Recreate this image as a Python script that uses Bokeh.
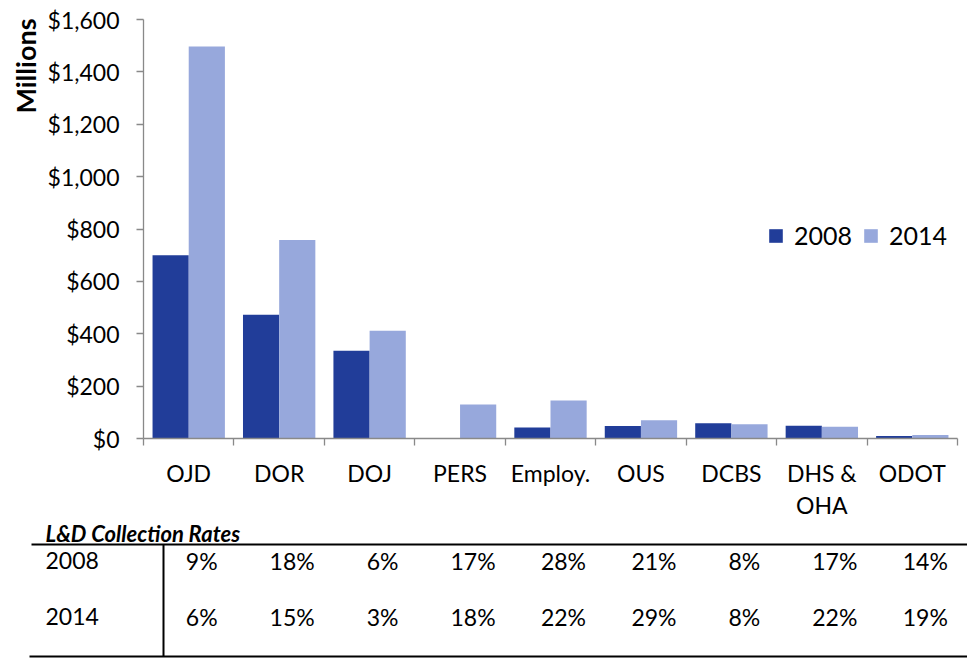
import math
from bokeh.plotting import figure
from bokeh.models import (Range1d, LinearAxis, FixedTicker, NumeralTickFormatter,
                          Title, Legend, ColumnDataSource)
from bokeh.transform import dodge
from bokeh.embed import file_html
from bokeh.resources import INLINE
from bokeh.core.properties import value

# ---------------- data ----------------
categories = ["OJD", "DOR", "DOJ", "PERS", "Employ.", "OUS", "DCBS", "DHS & OHA", "ODOT"]
tick_labels = ["OJD", "DOR", "DOJ", "PERS", "Employ.", "OUS", "DCBS", "DHS &\nOHA", "ODOT"]
years = ["2008", "2014"]
values_2008 = [700, 473, 335, 0, 42, 48, 58, 49, 10]
values_2014 = [1497, 758, 411, 130, 145, 70, 54, 45, 13]
y_ticks = [0, 200, 400, 600, 800, 1000, 1200, 1400, 1600]
rates_2008 = ["9%", "18%", "6%", "17%", "28%", "21%", "8%", "17%", "14%"]
rates_2014 = ["6%", "15%", "3%", "18%", "22%", "29%", "8%", "22%", "19%"]
y_title = "Millions"
table_title = "L&D Collection Rates"

# ---------------- style ----------------
FONT = "Lato"
DARK = "#213D99"
LIGHT = "#97A8DC"
AXIS = "#898989"
W = 967
LEFT = 143
RIGHT = 10
TOP = 19
BOTTOM = 80
H1 = TOP + 422 + BOTTOM
H2 = 658 - H1
n = len(categories)
centers = [i + 0.5 for i in range(n)]      # slot centre of each category
bounds = list(range(n + 1))                # slot boundaries (tick marks)

# ---------------- chart ----------------
p = figure(width=W, height=H1, x_range=Range1d(0, n), y_range=Range1d(0, 1600),
           output_backend="svg", toolbar_location=None,
           x_axis_location=None, y_axis_location=None,
           min_border_left=LEFT, min_border_right=RIGHT,
           min_border_top=TOP, min_border_bottom=BOTTOM)
p.outline_line_color = None
p.background_fill_color = "white"
p.border_fill_color = "white"
p.grid.visible = False

src = ColumnDataSource(dict(cat=categories, xc=centers, v2008=values_2008, v2014=values_2014))
r1 = p.vbar(x=dodge("xc", -0.2), top="v2008", width=0.4, source=src,
            fill_color=DARK, line_color=None)
r2 = p.vbar(x=dodge("xc", 0.2), top="v2014", width=0.4, source=src,
            fill_color=LIGHT, line_color=None)

xaxis = LinearAxis(
    ticker=FixedTicker(ticks=centers, minor_ticks=bounds),
    major_label_overrides={c: lab for c, lab in zip(centers, tick_labels)},
    axis_line_color=AXIS, axis_line_width=1.3,
    major_tick_line_color=None, major_tick_out=0, major_tick_in=0,
    minor_tick_line_color=AXIS, minor_tick_line_width=1.3, minor_tick_out=7, minor_tick_in=0,
    major_label_standoff=13,
    major_label_text_font=FONT, major_label_text_font_size="23px",
    major_label_text_color="black", major_label_text_line_height=1.16,
)
p.add_layout(xaxis, "below")

yaxis = LinearAxis(
    ticker=FixedTicker(ticks=y_ticks), formatter=NumeralTickFormatter(format="$0,0"),
    axis_line_color=AXIS, axis_line_width=1.3,
    major_tick_line_color=AXIS, major_tick_line_width=1.3, major_tick_out=7, major_tick_in=0,
    minor_tick_line_color=None,
    major_label_standoff=17,
    major_label_text_font=FONT, major_label_text_font_size="23px",
    major_label_text_color="black",
)
p.add_layout(yaxis, "left")

p.add_layout(Title(text=y_title, align="right", offset=-1, standoff=6,
                   text_font=FONT, text_font_size="27px", text_font_style="bold",
                   text_color="black"), "left")

legend = Legend(items=[(years[0], [r1]), (years[1], [r2])], orientation="horizontal",
                location=(624, 188), glyph_width=17, glyph_height=17, label_standoff=10,
                spacing=10, padding=0, margin=0, border_line_color=None,
                background_fill_alpha=0, label_text_font=FONT, label_text_font_size="25px",
                label_text_color="black")
p.add_layout(legend, "center")

# ---------------- table ----------------
cw = (W - LEFT - RIGHT) / n


def px(x):
    return (x - LEFT) / cw


t = figure(width=W, height=H2, x_range=Range1d(px(0), px(W)), y_range=Range1d(H2, 0),
           output_backend="svg", toolbar_location=None,
           x_axis_location=None, y_axis_location=None,
           min_border_left=0, min_border_right=0, min_border_top=0, min_border_bottom=0)
t.outline_line_color = None
t.grid.visible = False

TITLE_Y, TOPLINE, ROW1, ROW2, BOTLINE = 12, 23, 39, 95, H2 - 2
t.text(x=centers, y=[ROW1] * n, text=rates_2008, text_font=value(FONT), text_font_size="23px",
       text_align="center", text_baseline="middle", x_offset=13, text_color="black")
t.text(x=centers, y=[ROW2] * n, text=rates_2014, text_font=value(FONT), text_font_size="23px",
       text_align="center", text_baseline="middle", x_offset=13, text_color="black")
t.text(x=[px(45), px(45)], y=[ROW1, ROW2], text=years, text_font=value(FONT),
       text_font_size="23px", text_align="left", text_baseline="middle", text_color="black")
t.text(x=[px(45)], y=[TITLE_Y], text=[table_title], text_font=value(FONT),
       text_font_size="22px", text_font_style="bold italic", text_align="left",
       text_baseline="middle", text_color="black")
t.segment(x0=[px(31), px(29), px(163)], y0=[TOPLINE, BOTLINE, TOPLINE],
          x1=[px(W), px(W), px(163)], y1=[TOPLINE, BOTLINE, BOTLINE],
          line_color="black", line_width=2)

open("out.html", "w").write(file_html([p, t], INLINE))
